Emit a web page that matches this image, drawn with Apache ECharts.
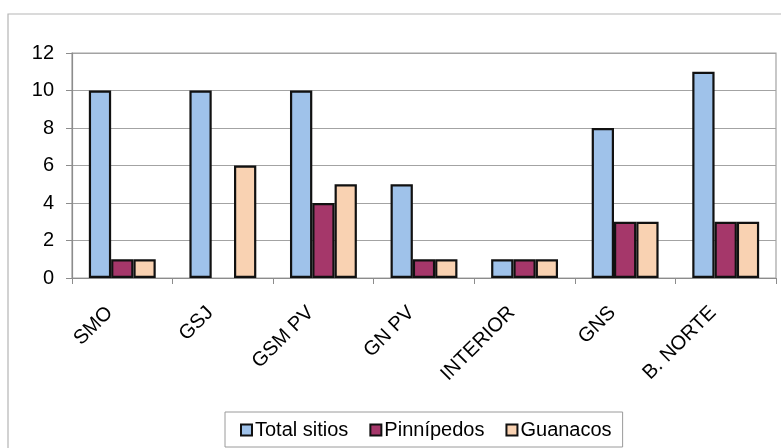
<!DOCTYPE html>
<html>
<head>
<meta charset="utf-8">
<script src="https://cdn.jsdelivr.net/npm/echarts@6/dist/echarts.min.js"></script>
<style>
  html, body { margin: 0; padding: 0; background: #ffffff; }
  #chart { width: 781px; height: 448px; }
</style>
</head>
<body>
<div id="chart"></div>
<script>
// Sites per zone: total and by faunal remains
const categories = ['SMO', 'GSJ', 'GSM PV', 'GN PV', 'INTERIOR', 'GNS', 'B. NORTE'];
const totalSitios = [10, 10, 10, 5, 1, 8, 11];
const pinnipedos = [1, 0, 4, 1, 1, 3, 3];
const guanacos = [1, 6, 5, 1, 1, 3, 3];
const yTicks = { min: 0, max: 12, interval: 2 };

const FONT = '"Liberation Sans", Arial, sans-serif';
const gridGray = '#a3a3a3';
const axisGray = '#8c8c8c';

// Zero-height bars are left without an outline so nothing is drawn for them
const toBarData = (values) => values.map(v => (v === 0 ? { value: v, itemStyle: { borderWidth: 0 } } : v));

const barSeries = (name, values, color) => ({
  name: name,
  type: 'bar',
  data: toBarData(values),
  barGap: '0%',
  barCategoryGap: '33.5%',
  itemStyle: { color: color, borderColor: '#111111', borderWidth: 2.2 },
  emphasis: { disabled: true }
});

const chart = echarts.init(document.getElementById('chart'), null, { renderer: 'canvas' });
chart.setOption({
  animation: false,
  backgroundColor: '#ffffff',
  textStyle: { fontFamily: FONT },
  graphic: [{
    type: 'rect',
    shape: { x: 8, y: 14, width: 790, height: 460 },
    style: { fill: 'none', stroke: '#b5b5b5', lineWidth: 1.2 },
    silent: true,
    z: -1
  }],
  grid: {
    left: 72, right: 5, top: 53, bottom: 170,
    show: true, borderColor: gridGray, borderWidth: 1.2, backgroundColor: 'transparent'
  },
  legend: {
    left: 225, top: 412,
    padding: [8, 11, 7, 15],
    itemGap: 21,
    itemWidth: 11, itemHeight: 11,
    icon: 'rect',
    borderColor: '#9a9a9a', borderWidth: 1,
    itemStyle: { borderColor: '#111111', borderWidth: 2 },
    textStyle: { fontFamily: FONT, fontSize: 20, color: '#000000', padding: [0, 0, 0, -2] },
    data: ['Total sitios', 'Pinnípedos', 'Guanacos']
  },
  xAxis: {
    type: 'category',
    data: categories,
    axisLine: { lineStyle: { color: axisGray, width: 1.2 } },
    axisTick: { show: true, length: 6, lineStyle: { color: axisGray } },
    axisLabel: {
      interval: 0, rotate: 45, margin: 19,
      padding: [0, 18, 0, 0],
      fontFamily: FONT, fontSize: 20, color: '#000000'
    },
    splitLine: { show: false }
  },
  yAxis: {
    type: 'value',
    min: yTicks.min, max: yTicks.max, interval: yTicks.interval,
    axisLine: { show: true, lineStyle: { color: axisGray, width: 1.2 } },
    axisTick: { show: true, length: 6, lineStyle: { color: axisGray } },
    axisLabel: { margin: 18, fontFamily: FONT, fontSize: 20, color: '#000000' },
    splitLine: { show: true, lineStyle: { color: gridGray, width: 1.2 } }
  },
  series: [
    barSeries('Total sitios', totalSitios, '#9fc2ea'),
    barSeries('Pinnípedos', pinnipedos, '#a5376a'),
    barSeries('Guanacos', guanacos, '#f9d2b2')
  ]
});
</script>
</body>
</html>
